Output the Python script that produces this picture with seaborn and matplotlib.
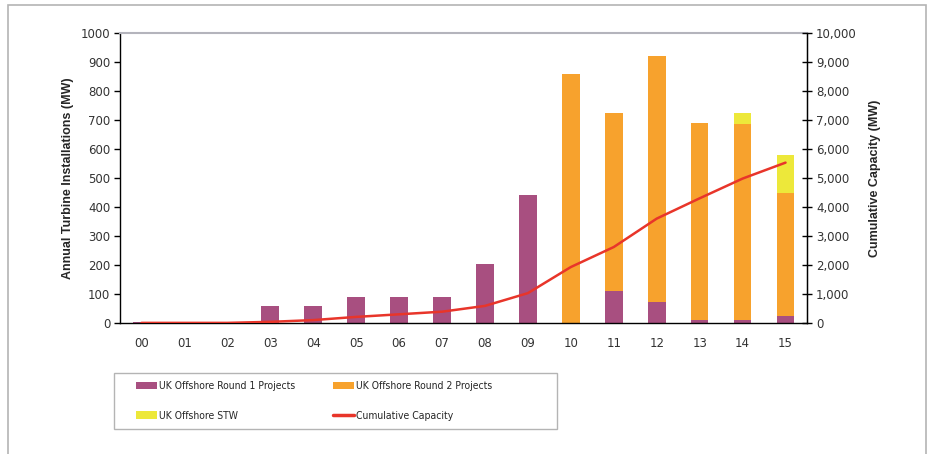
import numpy as np
import pandas as pd
import matplotlib
matplotlib.use("Agg")
import matplotlib.pyplot as plt
import seaborn as sns
from matplotlib.patches import Patch, Rectangle
from matplotlib.lines import Line2D
from matplotlib.ticker import FuncFormatter, FixedLocator
from matplotlib.font_manager import FontProperties

years = ["00", "01", "02", "03", "04", "05", "06", "07",
         "08", "09", "10", "11", "12", "13", "14", "15"]
round1 = [5, 0, 0, 60, 60, 90, 90, 90, 205, 443, 0, 110, 72, 10, 10, 25]
round2 = [0, 0, 0, 0, 0, 0, 0, 0, 0, 0, 860, 615, 848, 680, 676, 423]
stw = [0, 0, 0, 0, 0, 0, 0, 0, 0, 0, 0, 0, 0, 0, 38, 131]
cumulative = [4, 4, 4, 40, 100, 210, 300, 390, 590, 1030, 1930, 2620, 3600, 4300, 4980, 5530]

C_R1 = "#a84f80"
C_R2 = "#f7a22d"
C_STW = "#ede83a"
C_LINE = "#e8352a"

sns.set_style("white")
plt.rcParams["font.family"] = ["DejaVu Sans"]

df = pd.DataFrame({"year": years, "r1": round1, "r2": round2, "stw": stw,
                   "cum": cumulative})
df["top12"] = df["r1"] + df["r2"]
df["top"] = df["top12"] + df["stw"]

W, H = 929, 454
fig = plt.figure(figsize=(W / 100, H / 100), dpi=100)
ax = fig.add_axes([120 / W, 1 - 323 / H, 687 / W, 290 / H])

# stacked bars: draw the running totals from the top layer down
bw = 0.41
sns.barplot(data=df, x="year", y="top", color=C_STW, width=bw, ax=ax,
            saturation=1, linewidth=0)
sns.barplot(data=df, x="year", y="top12", color=C_R2, width=bw, ax=ax,
            saturation=1, linewidth=0)
sns.barplot(data=df, x="year", y="r1", color=C_R1, width=bw, ax=ax,
            saturation=1, linewidth=0)

ax.set_xlim(-0.5, len(years) - 0.5)
ax.set_ylim(0, 1000)
ax.set_yticks(np.arange(0, 1001, 100))

# tick marks between categories, labels at category centres
ax.xaxis.set_major_locator(FixedLocator(np.arange(-0.5, len(years), 1.0)))
ax.xaxis.set_major_formatter(FuncFormatter(lambda v, p: ""))
ax.set_xticks(np.arange(len(years)), minor=True)
ax.set_xticklabels(years, minor=True)
ax.tick_params(axis="x", which="major", direction="out", length=5, width=1,
               color="black")
ax.tick_params(axis="x", which="minor", length=0, pad=10, labelsize=8.5,
               labelcolor="#333333")
ax.tick_params(axis="y", direction="out", length=4, width=1, color="black",
               labelsize=8.5, labelcolor="#333333", pad=3, left=True)
ax.set_xlabel("")

label_font = FontProperties(family=["Liberation Sans"], weight="bold", size=9)
ax.set_ylabel("Annual Turbine Installations (MW)", fontproperties=label_font,
              labelpad=5)

for side in ["left", "bottom", "right"]:
    ax.spines[side].set_color("black")
    ax.spines[side].set_linewidth(1)
ax.spines["top"].set_color("#b4b4bc")
ax.spines["top"].set_linewidth(1.5)

ax2 = ax.twinx()
sns.lineplot(x=np.arange(len(years)), y=cumulative, ax=ax2, color=C_LINE,
             linewidth=1.8)
ax2.set_ylim(0, 10000)
ax2.set_xlim(-0.5, len(years) - 0.5)
ax2.set_yticks(np.arange(0, 10001, 1000))
ax2.yaxis.set_major_formatter(FuncFormatter(lambda v, p: f"{int(v):,}"))
ax2.tick_params(axis="y", direction="inout", length=7, width=1, color="black",
                labelsize=8.5, labelcolor="#333333", pad=3, right=True)
ax2.set_ylabel("Cumulative Capacity (MW)", fontproperties=label_font,
               labelpad=9)
for s in ax2.spines.values():
    s.set_visible(False)
ax2.spines["right"].set_visible(True)
ax2.spines["right"].set_color("black")

# legend: two columns, each its own legend, inside a shared box
leg_font = FontProperties(family=["DejaVu Sans"], stretch="condensed", size=7.5)
h_r1 = Patch(facecolor=C_R1, edgecolor="none", label="UK Offshore Round 1 Projects")
h_r2 = Patch(facecolor=C_R2, edgecolor="none", label="UK Offshore Round 2 Projects")
h_stw = Patch(facecolor=C_STW, edgecolor="none", label="UK Offshore STW")
h_cum = Line2D([], [], color=C_LINE, linewidth=2.5, label="Cumulative Capacity")

common = dict(loc="upper left", frameon=False, prop=leg_font,
              handlelength=2.0, handleheight=0.75, handletextpad=0.2,
              labelspacing=1.9, borderpad=0, borderaxespad=0)
leg1 = fig.legend(handles=[h_r1, h_stw], bbox_to_anchor=(136 / W, 1 - 381 / H),
                  **common)
leg2 = fig.legend(handles=[h_r2, h_cum], bbox_to_anchor=(333 / W, 1 - 381 / H),
                  **common)

fig.patches.append(Rectangle((114 / W, 1 - 429 / H), 443 / W, 56 / H,
                             transform=fig.transFigure, fill=False,
                             edgecolor="#b4b4b4", linewidth=1))

# outer frame around the whole figure
fig.patches.append(Rectangle((8 / W, -0.05), 918 / W, 1 - 5 / H + 0.05,
                             transform=fig.transFigure, fill=False,
                             edgecolor="#b4b4b4", linewidth=1.2))

fig.savefig("out.png", dpi=100)
